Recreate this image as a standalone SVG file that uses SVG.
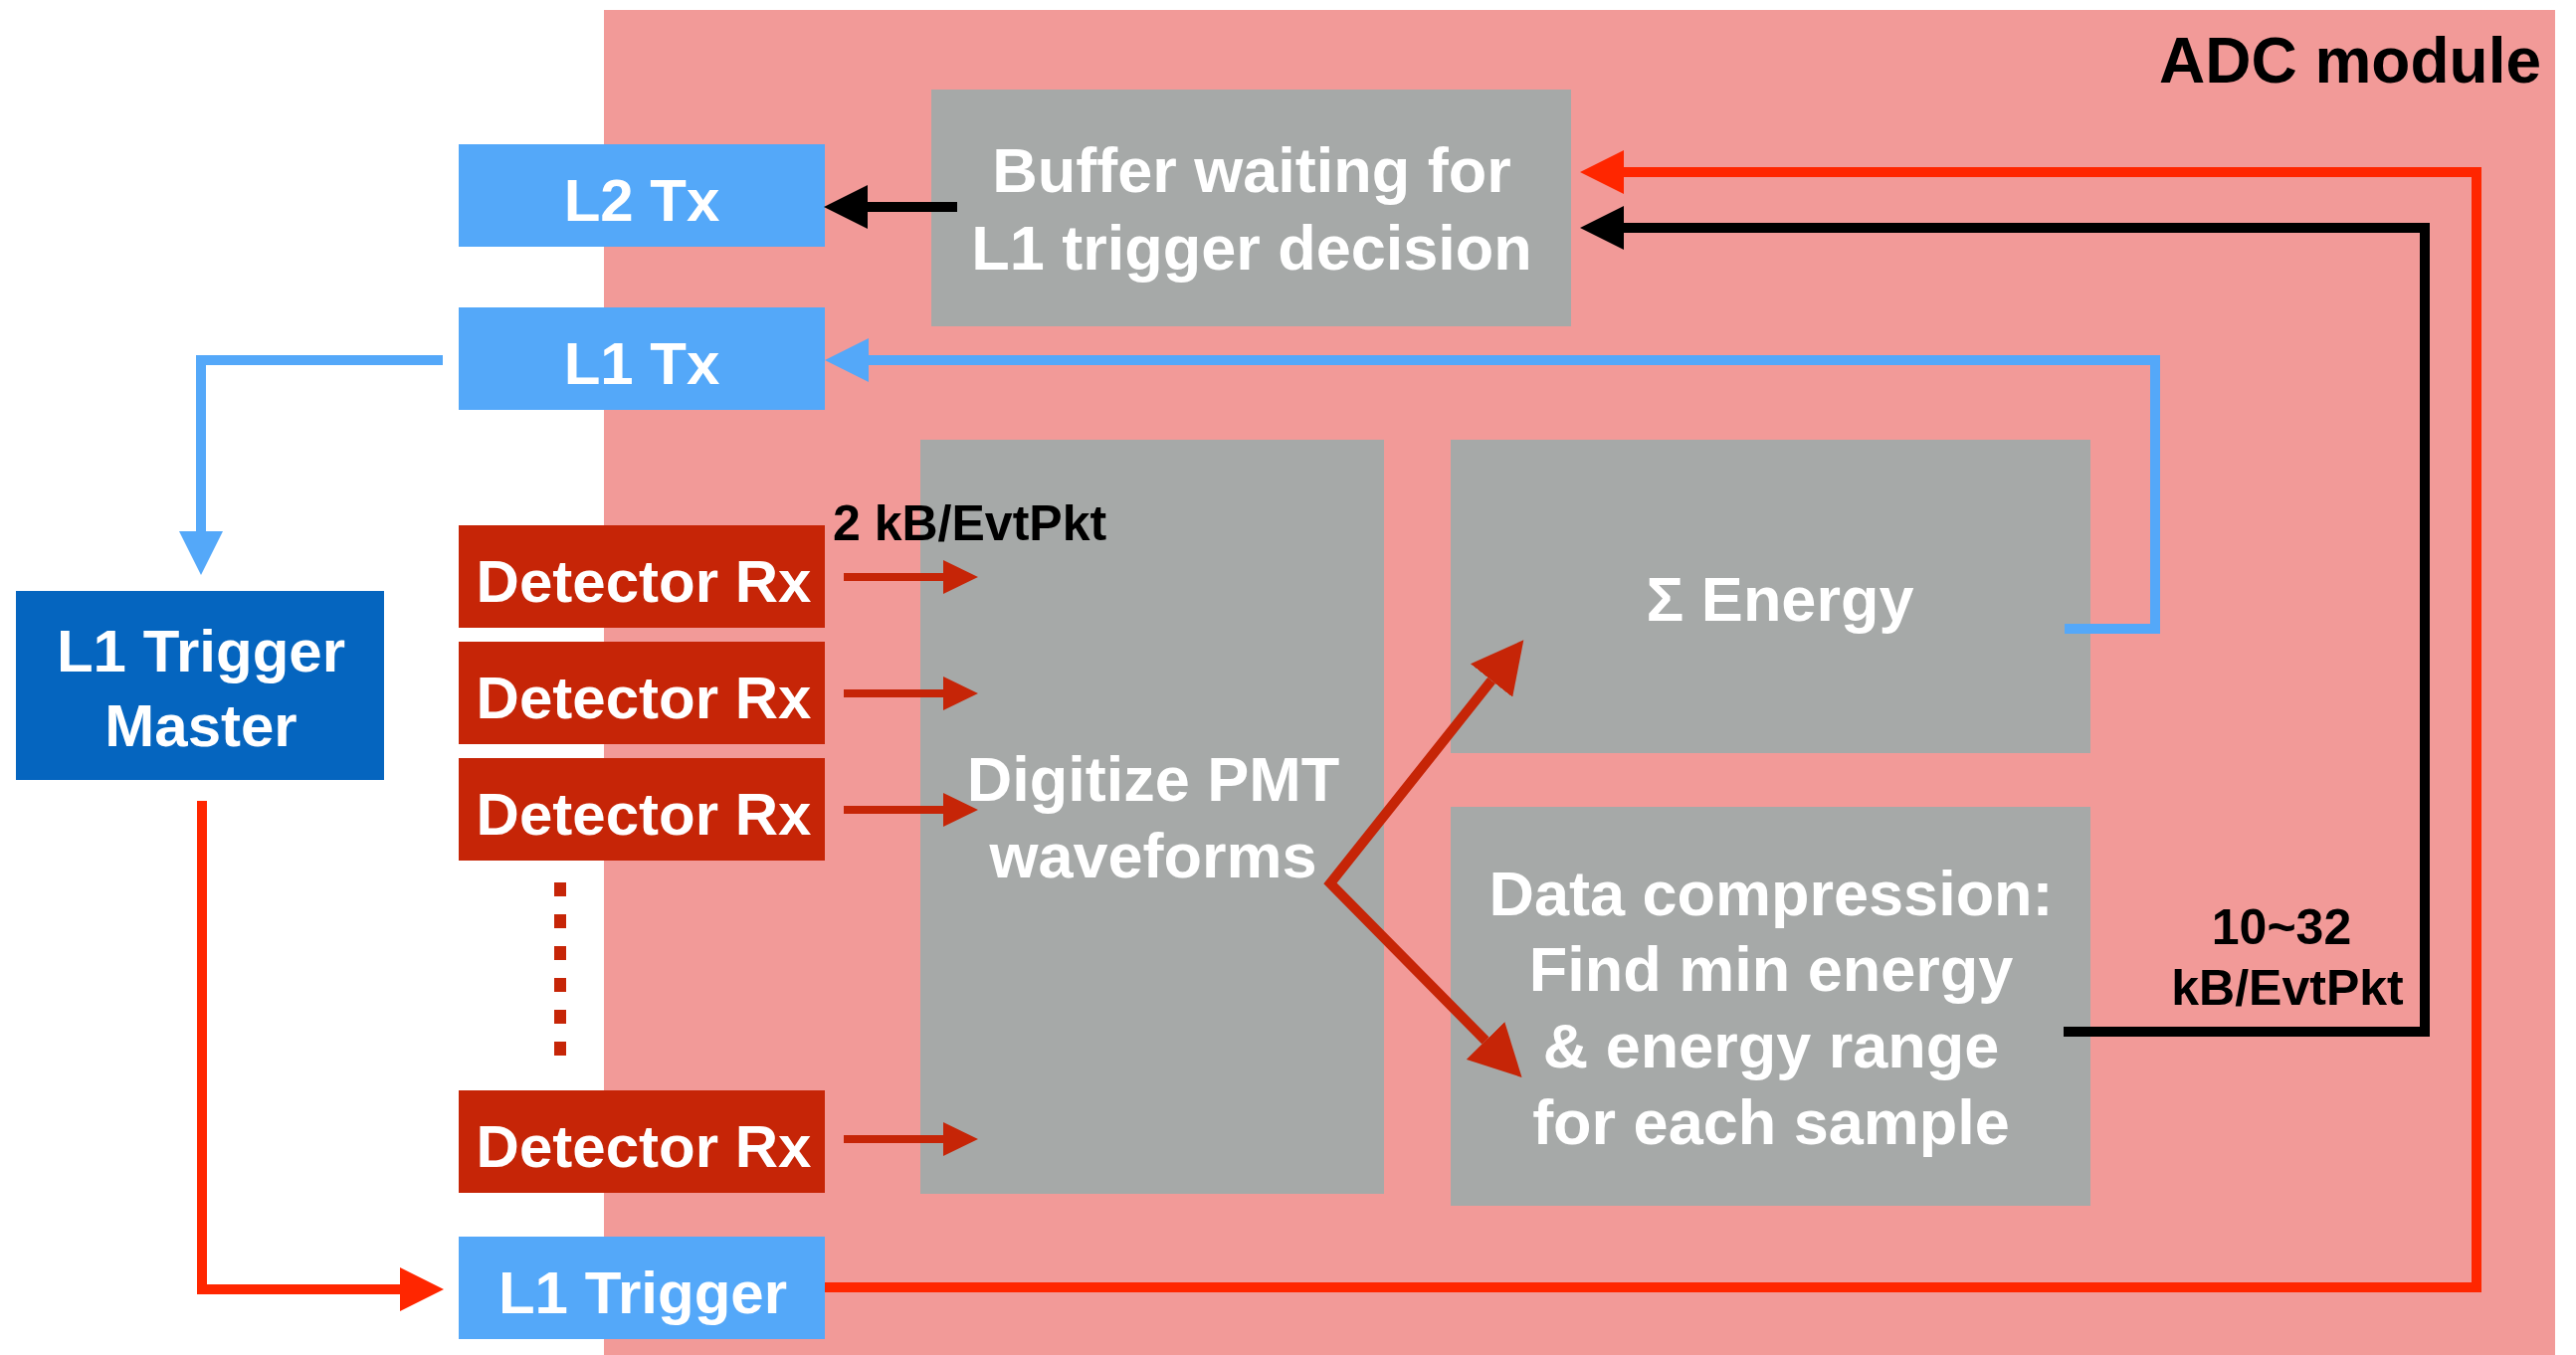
<svg xmlns="http://www.w3.org/2000/svg" width="2589" height="1362" viewBox="0 0 2589 1362">
  <defs>
    <style>
      .t { font-family: "Liberation Sans", Arial, Helvetica, sans-serif; font-weight: bold; }
      .lbl { fill: #ffffff; font-size: 60px; text-anchor: middle; }
      .big { fill: #ffffff; font-size: 63px; text-anchor: middle; }
      .note { fill: #000000; font-size: 50px; }
      .blue { fill: #54A8F9; }
      .det { fill: #C62507; }
      .gray { fill: #A6A9A8; }
      .conn { fill: none; stroke-linejoin: miter; stroke-linecap: butt; }
    </style>
    <marker id="ahBlack" markerUnits="userSpaceOnUse" viewBox="0 -22 44 44" refX="0" refY="0" markerWidth="44" markerHeight="44" orient="auto">
      <path d="M0,-22 L44,0 L0,22 z" fill="#000000"/>
    </marker>
    <marker id="ahRed" markerUnits="userSpaceOnUse" viewBox="0 -22 44 44" refX="0" refY="0" markerWidth="44" markerHeight="44" orient="auto">
      <path d="M0,-22 L44,0 L0,22 z" fill="#FF2600"/>
    </marker>
    <marker id="ahBlue" markerUnits="userSpaceOnUse" viewBox="0 -22 44 44" refX="0" refY="0" markerWidth="44" markerHeight="44" orient="auto">
      <path d="M0,-22 L44,0 L0,22 z" fill="#54A8F9"/>
    </marker>
    <marker id="ahDet" markerUnits="userSpaceOnUse" viewBox="0 -17 35 34" refX="0" refY="0" markerWidth="35" markerHeight="34" orient="auto">
      <path d="M0,-17 L35,0 L0,17 z" fill="#C62507"/>
    </marker>
    <marker id="ahDiag" markerUnits="userSpaceOnUse" viewBox="0 -27 52 54" refX="0" refY="0" markerWidth="52" markerHeight="54" orient="auto-start-reverse">
      <path d="M0,-27 L52,0 L0,27 z" fill="#C62507"/>
    </marker>
  </defs>

  <rect x="0" y="0" width="2589" height="1362" fill="#ffffff"/>

  <g id="adc-module">
    <rect x="607" y="10" width="1961" height="1352" fill="#F29A98"/>
    <text class="t" x="2554" y="83" font-size="64" text-anchor="end" fill="#000000">ADC module</text>
  </g>

  <g id="buffer">
    <rect class="gray" x="936" y="90" width="643" height="238"/>
    <text class="t big" x="1258" y="193">Buffer waiting for</text>
    <text class="t big" x="1258" y="271">L1 trigger decision</text>
  </g>

  <g id="digitize">
    <rect class="gray" x="925" y="442" width="466" height="758"/>
    <text class="t big" x="1159" y="805">Digitize PMT</text>
    <text class="t big" x="1159" y="882">waveforms</text>
  </g>

  <g id="sum-energy">
    <rect class="gray" x="1458" y="442" width="643" height="315"/>
    <text class="t big" x="1789" y="624">Σ Energy</text>
  </g>

  <g id="compression">
    <rect class="gray" x="1458" y="811" width="643" height="401"/>
    <text class="t big" x="1780" y="920">Data compression:</text>
    <text class="t big" x="1780" y="996">Find min energy</text>
    <text class="t big" x="1780" y="1073">&amp; energy range</text>
    <text class="t big" x="1780" y="1150">for each sample</text>
  </g>

  <g id="l2-tx">
    <rect class="blue" x="461" y="145" width="368" height="103"/>
    <text class="t lbl" x="645" y="222">L2 Tx</text>
  </g>

  <g id="l1-tx">
    <rect class="blue" x="461" y="309" width="368" height="103"/>
    <text class="t lbl" x="645" y="386">L1 Tx</text>
  </g>

  <g id="detector-rx-1">
    <rect class="det" x="461" y="528" width="368" height="103"/>
    <text class="t lbl" x="647" y="605">Detector Rx</text>
  </g>
  <g id="detector-rx-2">
    <rect class="det" x="461" y="645" width="368" height="103"/>
    <text class="t lbl" x="647" y="722">Detector Rx</text>
  </g>
  <g id="detector-rx-3">
    <rect class="det" x="461" y="762" width="368" height="103"/>
    <text class="t lbl" x="647" y="839">Detector Rx</text>
  </g>
  <g id="detector-rx-4">
    <rect class="det" x="461" y="1096" width="368" height="103"/>
    <text class="t lbl" x="647" y="1173">Detector Rx</text>
  </g>

  <g id="l1-trigger">
    <rect class="blue" x="461" y="1243" width="368" height="103"/>
    <text class="t lbl" x="646" y="1320">L1 Trigger</text>
  </g>

  <g id="l1-trigger-master">
    <rect x="16" y="594" width="370" height="190" fill="#0565BF"/>
    <text class="t lbl" x="202" y="675">L1 Trigger</text>
    <text class="t lbl" x="202" y="750">Master</text>
  </g>

  <g id="connectors">
    <!-- buffer -> L2 Tx -->
    <path class="conn" d="M962,208 H872" stroke="#000000" stroke-width="10" marker-end="url(#ahBlack)"/>
    <!-- sum energy -> L1 Tx -->
    <path class="conn" d="M2075,632 H2166 V362 H873" stroke="#54A8F9" stroke-width="10" marker-end="url(#ahBlue)"/>
    <!-- L1 Tx -> L1 Trigger Master -->
    <path class="conn" d="M445,362 H202 V534" stroke="#54A8F9" stroke-width="10" marker-end="url(#ahBlue)"/>
    <!-- L1 Trigger Master -> L1 Trigger -->
    <path class="conn" d="M203,805 V1296 H402" stroke="#FF2600" stroke-width="10" marker-end="url(#ahRed)"/>
    <!-- L1 Trigger -> buffer -->
    <path class="conn" d="M829,1294 H2489 V173 H1632" stroke="#FF2600" stroke-width="10" marker-end="url(#ahRed)"/>
    <!-- compression -> buffer -->
    <path class="conn" d="M2074,1037 H2437 V229 H1632" stroke="#000000" stroke-width="10" marker-end="url(#ahBlack)"/>
    <!-- detector rx -> digitize -->
    <path class="conn" d="M848,580 H948" stroke="#C62507" stroke-width="8" marker-end="url(#ahDet)"/>
    <path class="conn" d="M848,697 H948" stroke="#C62507" stroke-width="8" marker-end="url(#ahDet)"/>
    <path class="conn" d="M848,814 H948" stroke="#C62507" stroke-width="8" marker-end="url(#ahDet)"/>
    <path class="conn" d="M848,1145 H948" stroke="#C62507" stroke-width="8" marker-end="url(#ahDet)"/>
    <!-- digitize -> sum energy / compression -->
    <path class="conn" d="M1499,684 L1337,888 L1493,1046" stroke="#C62507" stroke-width="10" marker-start="url(#ahDiag)" marker-end="url(#ahDiag)"/>
    <!-- more detector rx (dots) -->
    <line x1="563" y1="887" x2="563" y2="1061" stroke="#C62507" stroke-width="12" stroke-dasharray="14 18"/>
    <text class="t note" x="837" y="543">2 kB/EvtPkt</text>
    <text class="t note" x="2293" y="949" text-anchor="middle">10~32</text>
    <text class="t note" x="2299" y="1010" text-anchor="middle">kB/EvtPkt</text>
  </g>
</svg>
